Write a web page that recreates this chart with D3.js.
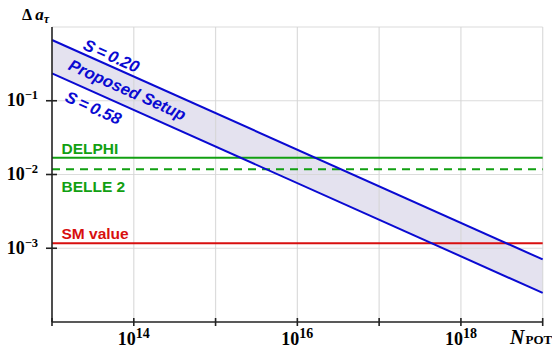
<!DOCTYPE html>
<html>
<head>
<meta charset="utf-8">
<script src="https://cdn.jsdelivr.net/npm/d3@7"></script>
<style>
  body { margin: 0; background: #fff; }
  svg { display: block; }
  .sans { font-family: "Liberation Sans", Arial, sans-serif; font-weight: bold; }
  .serif { font-family: "Liberation Serif", "Times New Roman", serif; font-weight: bold; }
</style>
</head>
<body>
<svg id="chart" width="552" height="347"></svg>
<script>
// data
var nPot = [1e13, 1e19];
var upperS020 = [0.667, 7.05e-4];   // S = 0.20
var lowerS058 = [0.235, 2.48e-4];   // S = 0.58
var limitNames = ["DELPHI", "BELLE 2", "SM value"];
var limitValues = [0.0169, 0.0118, 0.00117];
var xTickExps = [14, 16, 18];
var yTickExps = [-1, -2, -3];

(function() {
"use strict";
var svg = d3.select("#chart");
var pLeft = 52, pRight = 542.7, pTop = 27, pBottom = 322;

var x = d3.scaleLog().domain([1e13, 1e19]).range([pLeft, pRight]);
var y = d3.scaleLog().domain([1e-4, 1]).range([pBottom, pTop]);

var blue = "#0a0ad2", green = "#12a012", red = "#d80f0f";

var band = nPot.map(function(n, i) {
  return {n: n, hi: upperS020[i], lo: lowerS058[i]};
});

// band fill
svg.append("path")
  .datum(band)
  .attr("fill", "#e4e2ef")
  .attr("d", d3.area()
    .x(function(d) { return x(d.n); })
    .y0(function(d) { return y(d.lo); })
    .y1(function(d) { return y(d.hi); }));

// grid
var decadesX = d3.range(14, 20).map(function(e) { return Math.pow(10, e); });
var decadesY = d3.range(-3, 1).map(function(e) { return Math.pow(10, e); });
svg.append("g").selectAll("line").data(decadesX).enter().append("line")
  .attr("x1", x).attr("x2", x).attr("y1", pTop).attr("y2", pBottom)
  .attr("stroke", "#d6d6d6").attr("stroke-width", 1.2).attr("opacity", 0.85);
svg.append("g").selectAll("line").data(decadesY).enter().append("line")
  .attr("x1", pLeft).attr("x2", pRight).attr("y1", y).attr("y2", y)
  .attr("stroke", "#d6d6d6").attr("stroke-width", 1.2).attr("opacity", 0.85);

// limit lines
var limitColors = [green, green, red];
var limitDash = [null, "8,6", null];
svg.append("g").selectAll("line").data(limitValues).enter().append("line")
  .attr("x1", pLeft).attr("x2", pRight)
  .attr("y1", y).attr("y2", y)
  .attr("stroke", function(d, i) { return limitColors[i]; })
  .attr("stroke-width", 2)
  .attr("stroke-dasharray", function(d, i) { return limitDash[i]; });

var limitLabelY = [-4, 23, -4.5];
svg.append("g").selectAll("text").data(limitNames).enter().append("text")
  .attr("class", "sans")
  .attr("x", 61.5)
  .attr("y", function(d, i) { return y(limitValues[i]) + limitLabelY[i]; })
  .attr("fill", function(d, i) { return limitColors[i]; })
  .attr("font-size", 15.5)
  .text(function(d) { return d; });

// sensitivity lines
var line = d3.line().x(function(d) { return x(d.n); });
svg.append("path").datum(band)
  .attr("fill", "none").attr("stroke", blue).attr("stroke-width", 2)
  .attr("d", line.y(function(d) { return y(d.hi); }));
svg.append("path").datum(band)
  .attr("fill", "none").attr("stroke", blue).attr("stroke-width", 2)
  .attr("d", line.y(function(d) { return y(d.lo); }));

var angle = Math.atan2(y(upperS020[1]) - y(upperS020[0]), x(nPot[1]) - x(nPot[0])) * 180 / Math.PI;
var bandLabels = [
  {t: "S\u2009=\u20090.20", cx: 109, cy: 61},
  {t: "Proposed Setup", cx: 125, cy: 95},
  {t: "S\u2009=\u20090.58", cx: 91, cy: 113}
];
svg.append("g").selectAll("text").data(bandLabels).enter().append("text")
  .attr("class", "sans")
  .attr("font-style", "italic")
  .attr("font-size", 16.5)
  .attr("fill", blue)
  .attr("text-anchor", "middle")
  .attr("transform", function(d) { return "translate(" + d.cx + "," + d.cy + ") rotate(" + angle + ")"; })
  .text(function(d) { return d.t; });

// axes
var axisColor = "#222";
svg.append("line").attr("x1", pLeft).attr("x2", pLeft).attr("y1", pTop).attr("y2", pBottom)
  .attr("stroke", axisColor).attr("stroke-width", 1.6);
svg.append("line").attr("x1", pLeft).attr("x2", pRight).attr("y1", pBottom).attr("y2", pBottom)
  .attr("stroke", axisColor).attr("stroke-width", 1.6);

var xTicks = d3.range(13, 20).map(function(e) { return Math.pow(10, e); });
svg.append("g").selectAll("line").data(xTicks).enter().append("line")
  .attr("x1", x).attr("x2", x).attr("y1", pBottom - 4).attr("y2", pBottom + 4)
  .attr("stroke", axisColor).attr("stroke-width", 1.6);
svg.append("g").selectAll("line").data(yTickExps).enter().append("line")
  .attr("x1", pLeft - 6).attr("x2", pLeft + 5)
  .attr("y1", function(d) { return y(Math.pow(10, d)); })
  .attr("y2", function(d) { return y(Math.pow(10, d)); })
  .attr("stroke", axisColor).attr("stroke-width", 1.6);

var xl = svg.append("g").selectAll("text").data(xTickExps).enter().append("text")
  .attr("class", "serif").attr("font-size", 18)
  .attr("x", function(d) { return x(Math.pow(10, d)); })
  .attr("y", 344.5).attr("text-anchor", "middle");
xl.append("tspan").text("10");
xl.append("tspan").attr("font-size", 14).attr("dy", -7).text(function(d) { return d; });

var yl = svg.append("g").selectAll("text").data(yTickExps).enter().append("text")
  .attr("class", "serif").attr("font-size", 18)
  .attr("x", 38)
  .attr("y", function(d) { return y(Math.pow(10, d)) + 5.5; })
  .attr("text-anchor", "end");
yl.append("tspan").text("10");
yl.append("tspan").attr("font-size", 12.5).attr("dy", -7).text(function(d) { return "\u2212" + (-d); });

// axis titles
var yt = svg.append("text").attr("class", "serif").attr("font-size", 16).attr("x", 22).attr("y", 19.5);
yt.append("tspan").text("\u0394 ");
yt.append("tspan").attr("font-style", "italic").attr("font-size", 17).text("a");
yt.append("tspan").attr("font-style", "italic").attr("font-size", 12).attr("dy", 3).text("\u03c4");

var xt = svg.append("text").attr("class", "serif").attr("font-size", 20).attr("x", 510).attr("y", 344);
xt.append("tspan").attr("font-style", "italic").text("N");
xt.append("tspan").attr("font-size", 13).attr("dx", 1).text("POT");
})();
</script>
</body>
</html>
